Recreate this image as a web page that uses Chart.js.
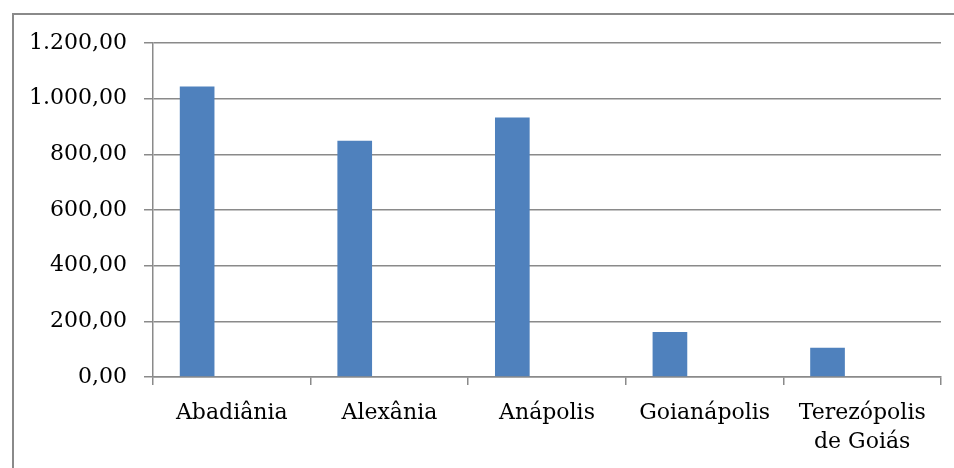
<!DOCTYPE html>
<html>
<head>
<meta charset="utf-8">
<script src="https://cdn.jsdelivr.net/npm/chart.js@4/dist/chart.umd.min.js"></script>
<style>
  html, body { margin: 0; padding: 0; background: #ffffff; overflow: hidden; }
  #wrap { position: relative; width: 954px; height: 468px; }
  canvas { position: absolute; left: 0; top: 0; }
</style>
</head>
<body>
<div id="wrap"><canvas id="chart" width="954" height="468"></canvas></div>
<script>
// Municípios e valores (R$)
const categories = ['Abadiânia', 'Alexânia', 'Anápolis', 'Goianápolis', ['Terezópolis', 'de Goiás']];
const serie1 = [1044, 849, 932, 162, 105];
// colunas vazias da planilha (ocupam espaço no agrupamento)
const serie2 = [null, null, null, null, null];
const serie3 = [null, null, null, null, null];
const yTickValues = [0, 200, 400, 600, 800, 1000, 1200];
const yTickLabels = ['0,00', '200,00', '400,00', '600,00', '800,00', '1.000,00', '1.200,00'];

const GRID = '#8a8a8a';
const FONT = { family: 'DejaVu Serif', size: 22, lineHeight: 1.32 };

// moldura da área do gráfico
const frame = {
  id: 'frame',
  beforeDraw(chart) {
    const c = chart.ctx;
    c.save();
    c.fillStyle = '#ffffff';
    c.fillRect(0, 0, chart.width, chart.height);
    c.strokeStyle = GRID;
    c.lineWidth = 2;
    c.beginPath();
    c.moveTo(13, chart.height + 2);
    c.lineTo(13, 14);
    c.lineTo(chart.width + 2, 14);
    c.stroke();
    c.restore();
  }
};

new Chart(document.getElementById('chart'), {
  type: 'bar',
  data: {
    labels: categories,
    datasets: [
      { label: 'Série1', data: serie1, backgroundColor: '#4F81BD', borderWidth: 0 },
      { label: 'Série2', data: serie2, backgroundColor: '#C0504D', borderWidth: 0 },
      { label: 'Série3', data: serie3, backgroundColor: '#9BBB59', borderWidth: 0 }
    ]
  },
  options: {
    responsive: false,
    devicePixelRatio: 1,
    animation: false,
    categoryPercentage: 0.66,
    barPercentage: 1,
    layout: { padding: { left: 0, top: 43, right: 13, bottom: 0 } },
    plugins: {
      legend: { display: false },
      tooltip: { enabled: false },
      title: { display: false }
    },
    scales: {
      x: {
        grid: {
          offset: true,
          drawOnChartArea: false,
          drawTicks: true,
          tickLength: 8,
          color: GRID,
          lineWidth: 1.5
        },
        border: { display: true, color: GRID, width: 1.5 },
        ticks: {
          color: '#000000',
          font: FONT,
          padding: 14,
          maxRotation: 0,
          autoSkip: false
        },
        afterFit(scale) { scale.height = 91; }
      },
      y: {
        min: 0,
        max: 1200,
        afterBuildTicks(scale) { scale.ticks = yTickValues.map(v => ({ value: v })); },
        grid: {
          color: GRID,
          lineWidth: 1.5,
          drawTicks: true,
          tickLength: 9
        },
        border: { display: true, color: GRID, width: 1.5 },
        ticks: {
          color: '#000000',
          font: { family: 'DejaVu Serif', size: 22 },
          padding: 17,
          callback(value) {
            const i = yTickValues.indexOf(value);
            return i >= 0 ? yTickLabels[i] : '';
          }
        },
        afterFit(scale) { scale.width = 153; }
      }
    }
  },
  plugins: [frame]
});
</script>
</body>
</html>
